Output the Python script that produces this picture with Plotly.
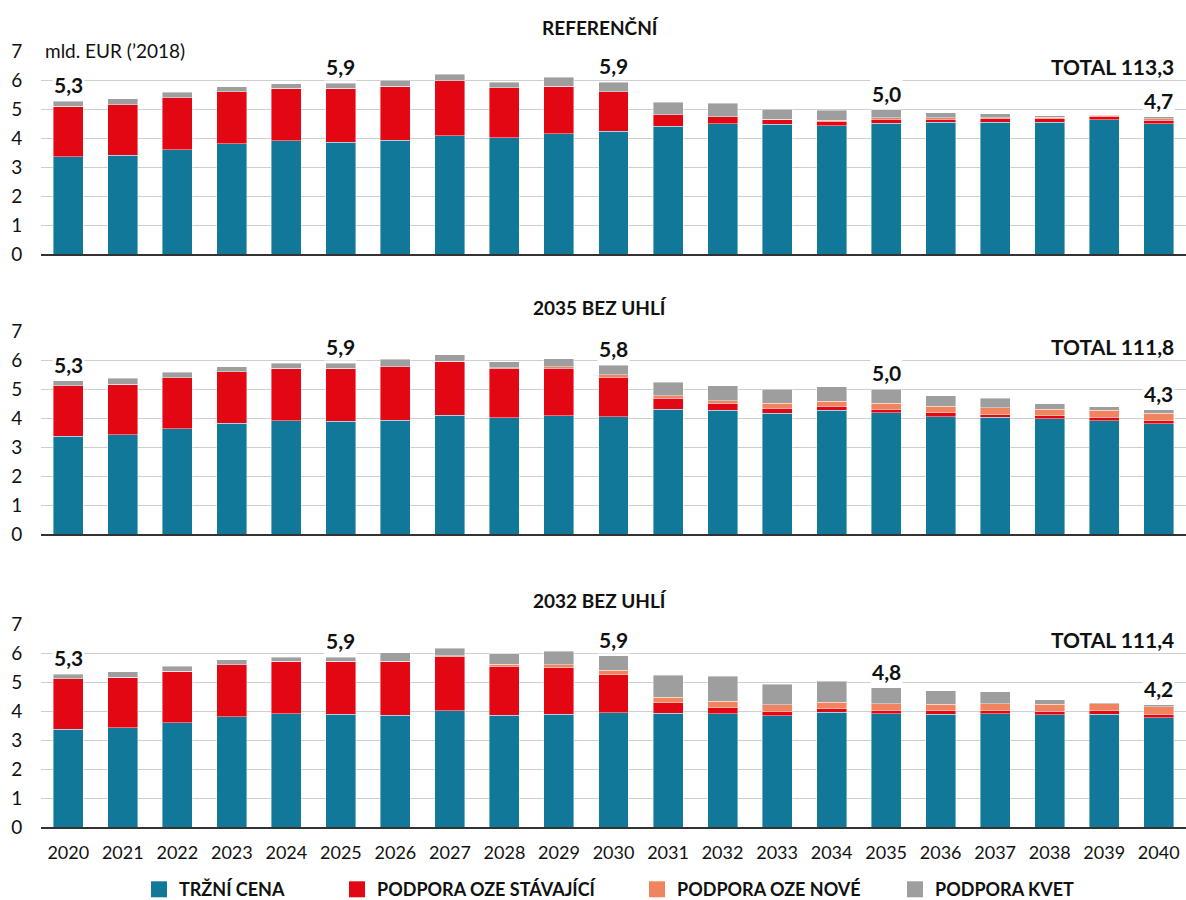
import plotly.graph_objects as go

years = [str(y) for y in range(2020, 2041)]
panel_titles = ["REFERENČNÍ", "2035 BEZ UHLÍ", "2032 BEZ UHLÍ"]
panel_totals = ["TOTAL 113,3", "TOTAL 111,8", "TOTAL 111,4"]
series_names = ["TRŽNÍ CENA", "PODPORA OZE STÁVAJÍCÍ", "PODPORA OZE NOVÉ", "PODPORA KVET"]
series_colors = ["#11789A", "#E30613", "#F0845F", "#9E9E9E"]
label_years = ["2020", "2025", "2030", "2035", "2040"]

# Panel 1: REFERENČNÍ
ref_market = [3.36, 3.40, 3.60, 3.80, 3.90, 3.86, 3.92, 4.08, 4.01, 4.14, 4.23, 4.41, 4.49, 4.48, 4.43, 4.51, 4.55, 4.55, 4.55, 4.63, 4.49]
ref_oze_old = [1.73, 1.75, 1.78, 1.79, 1.82, 1.86, 1.86, 1.90, 1.72, 1.65, 1.36, 0.40, 0.25, 0.15, 0.15, 0.14, 0.10, 0.11, 0.12, 0.11, 0.13]
ref_oze_new = [0, 0, 0, 0, 0, 0, 0, 0, 0, 0, 0, 0, 0, 0.02, 0.04, 0.05, 0.05, 0.04, 0.05, 0.04, 0.04]
ref_kvet = [0.18, 0.21, 0.19, 0.17, 0.15, 0.16, 0.22, 0.22, 0.20, 0.31, 0.34, 0.43, 0.45, 0.34, 0.33, 0.27, 0.17, 0.14, 0.05, 0.02, 0.07]

# Panel 2: 2035 BEZ UHLÍ
c35_market = [3.37, 3.42, 3.63, 3.82, 3.91, 3.89, 3.93, 4.09, 4.01, 4.08, 4.05, 4.31, 4.26, 4.17, 4.26, 4.18, 4.05, 4.02, 3.97, 3.91, 3.81]
c35_oze_old = [1.75, 1.74, 1.75, 1.78, 1.81, 1.83, 1.84, 1.87, 1.71, 1.64, 1.35, 0.37, 0.23, 0.16, 0.14, 0.12, 0.13, 0.10, 0.11, 0.12, 0.10]
c35_oze_new = [0, 0, 0, 0, 0, 0, 0, 0, 0.02, 0.04, 0.10, 0.08, 0.11, 0.18, 0.18, 0.21, 0.22, 0.24, 0.23, 0.23, 0.26]
c35_kvet = [0.16, 0.21, 0.20, 0.16, 0.17, 0.17, 0.25, 0.22, 0.20, 0.29, 0.32, 0.48, 0.52, 0.48, 0.49, 0.48, 0.37, 0.32, 0.19, 0.12, 0.11]

# Panel 3: 2032 BEZ UHLÍ
c32_market = [3.37, 3.42, 3.60, 3.81, 3.90, 3.88, 3.86, 4.01, 3.86, 3.88, 3.94, 3.92, 3.90, 3.84, 3.95, 3.90, 3.88, 3.90, 3.87, 3.88, 3.77]
c32_oze_old = [1.74, 1.74, 1.77, 1.78, 1.81, 1.83, 1.85, 1.86, 1.68, 1.62, 1.31, 0.37, 0.22, 0.16, 0.13, 0.13, 0.13, 0.11, 0.12, 0.13, 0.12]
c32_oze_new = [0, 0, 0, 0, 0, 0, 0, 0.04, 0.07, 0.10, 0.15, 0.19, 0.22, 0.22, 0.22, 0.22, 0.23, 0.24, 0.25, 0.24, 0.26]
c32_kvet = [0.16, 0.19, 0.18, 0.17, 0.15, 0.15, 0.30, 0.25, 0.36, 0.46, 0.51, 0.76, 0.86, 0.70, 0.72, 0.55, 0.45, 0.42, 0.15, 0.03, 0.07]

panels = [
    [ref_market, ref_oze_old, ref_oze_new, ref_kvet],
    [c35_market, c35_oze_old, c35_oze_new, c35_kvet],
    [c32_market, c32_oze_old, c32_oze_new, c32_kvet],
]

FONT = "Lato, 'Open Sans', sans-serif"
W, H = 1186, 900
ML = 41
# pixel positions (top of 7, bottom 0) for each panel
panel_px = [(51, 254), (331, 534), (624, 827)]
legend_left_px = [139, 337, 637, 895]  # left edge of each legend entry

fig = go.Figure()
annotations = []
for p, data in enumerate(panels):
    ax = "" if p == 0 else str(p + 1)
    for s in range(4):
        fig.add_trace(go.Bar(
            x=years, y=data[s], name=series_names[s],
            marker=dict(color=series_colors[s], line=dict(color="rgba(255,255,255,0.7)", width=0.6)),
            xaxis="x" + ax, yaxis="y" + ax, showlegend=False,
            hovertemplate="%{x}: %{y:.2f}<extra>" + series_names[s] + "</extra>",
        ))
    totals = [sum(v[i] for v in data) for i in range(len(years))]
    for yr in label_years:
        i = years.index(yr)
        annotations.append(dict(
            x=i, y=totals[i], xref="x" + ax, yref="y" + ax,
            text="<b>" + ("%.1f" % totals[i]).replace(".", ",") + "</b>", showarrow=False,
            xanchor="center", yanchor="bottom", yshift=2, bgcolor="white", borderpad=1,
            font=dict(family=FONT, size=21, color="#111111"),
        ))
    annotations.append(dict(
        x=1, y=6.45, xref="paper", yref="y" + ax, xanchor="right", xshift=-10,
        text="<b>" + panel_totals[p] + "</b>", showarrow=False,
        font=dict(family=FONT, size=21, color="#111111"),
    ))
    top, bot = panel_px[p]
    annotations.append(dict(
        x=(600 - ML) / (W - ML), y=1 - (top - 24) / H, xref="paper", yref="paper",
        text="<b>" + panel_titles[p] + "</b>", showarrow=False, xanchor="center", yanchor="middle",
        font=dict(family=FONT, size=19, color="#111111"),
    ))

annotations.append(dict(
    x=0, y=7, xref="paper", yref="y", xanchor="left", yanchor="middle", xshift=1,
    text="mld. EUR (’2018)", showarrow=False, bgcolor="white", borderpad=2,
    font=dict(family=FONT, size=19, color="#111111"),
))

# legend entries, each in its own legend box
legend_keys = ["legend", "legend2", "legend3", "legend4"]
for s in range(4):
    fig.add_trace(go.Scatter(
        x=[None], y=[None], mode="markers",
        name="<b>" + series_names[s] + "</b>",
        marker=dict(symbol="square", size=22, color=series_colors[s]),
        xaxis="x3", yaxis="y3", showlegend=True, legend=legend_keys[s],
    ))

layout = dict(
    width=W, height=H, barmode="stack", bargap=0.45, autosize=False,
    margin=dict(l=ML, r=0, t=0, b=0, pad=0, autoexpand=False),
    paper_bgcolor="white", plot_bgcolor="white",
    font=dict(family=FONT, color="#111111"),
    annotations=annotations,
    showlegend=True,
)
for s in range(4):
    layout[legend_keys[s]] = dict(
        orientation="h", x=(legend_left_px[s] - ML) / (W - ML), xanchor="left",
        y=-0.009, yanchor="bottom", bgcolor="rgba(0,0,0,0)",
        font=dict(family=FONT, size=18, color="#111111"),
        itemclick=False,
    )
for p in range(3):
    ax = "" if p == 0 else str(p + 1)
    top, bot = panel_px[p]
    layout["xaxis" + ax] = dict(
        type="category", range=[-0.5, 20.5], anchor="y" + ax, automargin=False,
        showticklabels=(p == 2), ticks="outside", ticklen=8, tickcolor="rgba(0,0,0,0)",
        tickfont=dict(family=FONT, size=18, color="#111111"),
        showline=True, linecolor="#333333", linewidth=2, showgrid=False,
    )
    layout["yaxis" + ax] = dict(
        domain=[1 - bot / H, 1 - top / H], range=[0, 7], anchor="x" + ax, automargin=False,
        dtick=1, tick0=0, showgrid=True, gridcolor="#CFCFCF", gridwidth=1,
        zeroline=False, ticks="outside", ticklen=14, tickcolor="rgba(0,0,0,0)",
        tickfont=dict(family=FONT, size=19, color="#111111"),
        fixedrange=True,
    )
fig.update_layout(**layout)
fig.write_html("out.html", config={"displayModeBar": False},
               post_script="document.body.style.margin='0';document.body.style.overflow='hidden';")
